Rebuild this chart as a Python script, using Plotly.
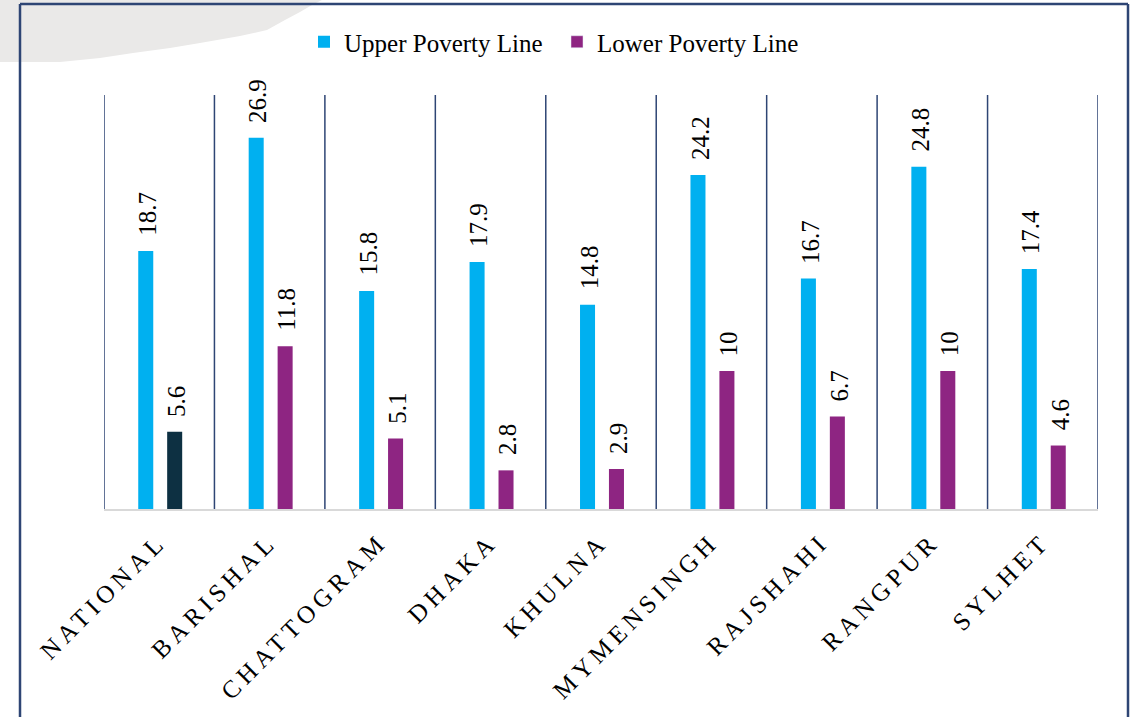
import plotly.graph_objects as go

categories = ["NATIONAL", "BARISHAL", "CHATTOGRAM", "DHAKA", "KHULNA",
              "MYMENSINGH", "RAJSHAHI", "RANGPUR", "SYLHET"]
upper = [18.7, 26.9, 15.8, 17.9, 14.8, 24.2, 16.7, 24.8, 17.4]
lower = [5.6, 11.8, 5.1, 2.8, 2.9, 10, 6.7, 10, 4.6]
upper_labels = ["18.7", "26.9", "15.8", "17.9", "14.8", "24.2", "16.7", "24.8", "17.4"]
lower_labels = ["5.6", "11.8", "5.1", "2.8", "2.9", "10", "6.7", "10", "4.6"]

W, H = 1137, 717
L, R, T, B = 104, 39, 95, 208
PW, PH = W - L - R, H - T - B

def px(x, y):
    return (x - L) / PW, (H - B - y) / PH

CYAN = "#00B0F0"
PURPLE = "#8E2582"
DARK = "#0D3042"
NAVY = "#2E4574"
SERIF = "Liberation Serif"

lower_colors = [DARK] + [PURPLE] * (len(lower) - 1)
tick_text = ['<span style="letter-spacing:5px">%s</span>' % c for c in categories]

fig = go.Figure()
fig.add_trace(go.Bar(name="Upper Poverty Line", x=categories, y=upper,
                     marker=dict(color=CYAN, line=dict(width=0)),
                     width=0.136, offset=-0.19))
fig.add_trace(go.Bar(name="Lower Poverty Line", x=categories, y=lower,
                     marker=dict(color=lower_colors, line=dict(width=0)),
                     width=0.136, offset=0.072, showlegend=False))
fig.add_trace(go.Bar(name="Lower Poverty Line", x=[categories[0]], y=[None],
                     marker=dict(color=PURPLE), showlegend=True))

unit_px = PW / len(categories)
up_shift = (-0.19 + 0.068) * unit_px
lo_shift = (0.072 + 0.068) * unit_px
for c, v, t in zip(categories, upper, upper_labels):
    fig.add_annotation(x=c, y=v, text=t, showarrow=False, textangle=-90,
                       xanchor="center", yanchor="bottom", xshift=up_shift + 2, yshift=13,
                       font=dict(family=SERIF, size=25, color="#000000"))
for c, v, t in zip(categories, lower, lower_labels):
    fig.add_annotation(x=c, y=v, text=t, showarrow=False, textangle=-90,
                       xanchor="center", yanchor="bottom", xshift=lo_shift + 2, yshift=13,
                       font=dict(family=SERIF, size=25, color="#000000"))

shapes = []
brush = [(0, 0), (322, 0), (312, 5), (300, 12), (285, 20), (267, 30), (240, 36),
         (200, 43), (170, 48), (133, 53), (100, 58), (60, 62), (0, 62)]
path = "M " + " L ".join("%.5f,%.5f" % px(x, y) for x, y in brush) + " Z"
shapes.append(dict(type="path", xref="paper", yref="paper", path=path,
                   fillcolor="#EAE9E8", line=dict(width=0), layer="below"))
fx0, fy0 = px(20, 4)
fx1, fy1 = px(1128, 740)
for a in [(fx0, fy0, fx1, fy0), (fx0, fy0, fx0, fy1), (fx1, fy0, fx1, fy1)]:
    shapes.append(dict(type="line", xref="paper", yref="paper",
                       x0=a[0], y0=a[1], x1=a[2], y1=a[3],
                       line=dict(color=NAVY, width=2.5)))
for i in range(len(categories) + 1):
    shapes.append(dict(type="line", xref="x", yref="y", x0=i - 0.5, x1=i - 0.5,
                       y0=0, y1=30, line=dict(color=NAVY, width=1.5)))

fig.update_layout(
    width=W, height=H,
    margin=dict(l=L, r=R, t=T, b=B, autoexpand=False),
    paper_bgcolor="white", plot_bgcolor="white",
    barmode="overlay",
    shapes=shapes,
    showlegend=True,
    legend=dict(orientation="h", x=px(304, 0)[0], xanchor="left", y=px(0, 42)[1], yanchor="middle",
                entrywidth=208,
                font=dict(family=SERIF, size=25, color="#000000"),
                bgcolor="rgba(0,0,0,0)", itemclick=False),
    xaxis=dict(range=[-0.5, len(categories) - 0.5], showgrid=False, zeroline=False,
               showline=True, linecolor="#D9D9D9", linewidth=2, ticks="",
               tickmode="array", tickvals=categories, ticktext=tick_text,
               tickangle=-45, ticklabelstandoff=6, automargin=False,
               tickfont=dict(family=SERIF, size=25, color="#000000")),
    yaxis=dict(range=[0, 30], visible=False, showgrid=False, zeroline=False, automargin=False),
    font=dict(family=SERIF),
)

fig.write_html("out.html")
